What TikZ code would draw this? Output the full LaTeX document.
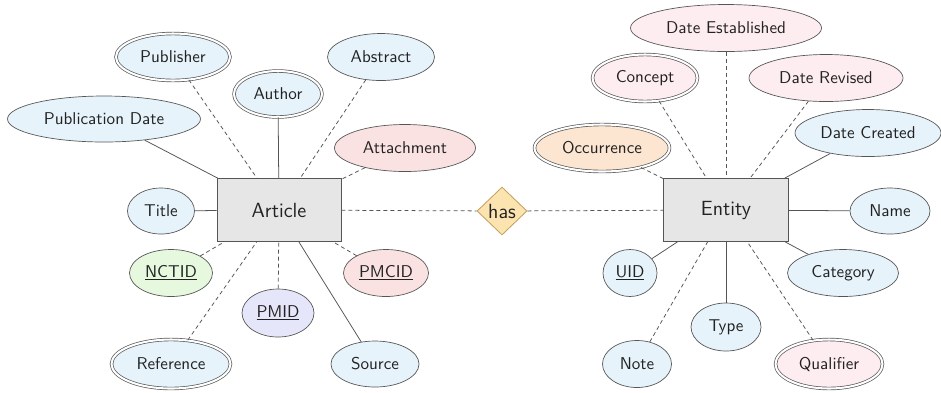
\documentclass[tikz,border=0pt]{standalone}
\usetikzlibrary{shapes.geometric}
\definecolor{attrblue}{HTML}{E6F3FB}
\definecolor{attrpink}{HTML}{FBE2E2}
\definecolor{attrrose}{HTML}{FDEDF1}
\definecolor{attrgreen}{HTML}{E6F8DE}
\definecolor{attrlav}{HTML}{E6E6FA}
\definecolor{attrorange}{HTML}{FCE6D2}
\definecolor{relfill}{HTML}{FCE4B0}
\definecolor{reldraw}{HTML}{C8A060}
\definecolor{boxfill}{HTML}{E6E6E6}
\definecolor{linegray}{HTML}{555555}
\definecolor{txt}{HTML}{222222}
\begin{document}
\begin{tikzpicture}[x=0.585pt,y=-0.585pt,
  sz/.style 2 args={minimum width=#1*0.585pt, minimum height=#2*0.585pt},
  attr/.style={ellipse, draw=linegray, line width=0.4pt, fill=attrblue, text=txt, font=\sffamily, inner sep=0pt},
  multi/.style={attr, double=white, double distance=1.2pt},
  entbox/.style={rectangle, draw=linegray, line width=0.5pt, fill=boxfill, text=txt, font=\sffamily\large, inner sep=0pt},
  rel/.style={diamond, draw=reldraw, line width=0.5pt, fill=relfill, text=txt, font=\sffamily\large, inner sep=0pt, aspect=1.05},
  conn/.style={draw=linegray, line width=0.45pt},
  dconn/.style={conn, dash pattern=on 2.3pt off 1.8pt}]
\useasboundingbox (0,0) rectangle (941,392);
% entities
\node[entbox, sz={124}{63}] (article) at (279,210) {Article};
\node[entbox, sz={125}{63}] (entity) at (726,210) {Entity};
\node[rel, sz={50}{48}] (has) at (502,211) {has};
% Article attributes
\node[multi, sz={114}{47}] (publisher) at (173,57) {Publisher};
\node[multi, sz={88}{46}] (author) at (278,94) {Author};
\node[attr, sz={107}{47}] (abstract) at (381,57) {Abstract};
\node[attr, sz={193}{46}] (pubdate) at (104,119) {Publication Date};
\node[attr, fill=attrpink, sz={141}{47}] (attachment) at (405,148) {Attachment};
\node[attr, sz={67}{46}] (title) at (161,211) {Title};
\node[attr, fill=attrgreen, sz={83}{47}] (nctid) at (171,273) {\underline{NCTID}};
\node[attr, fill=attrlav, sz={72}{48}] (pmid) at (278,313) {\underline{PMID}};
\node[attr, fill=attrpink, sz={85}{47}] (pmcid) at (386,273) {\underline{PMCID}};
\node[multi, sz={119}{49}] (reference) at (171,364) {Reference};
\node[attr, sz={88}{46}] (source) at (375,364) {Source};
% Entity attributes
\node[attr, fill=attrrose, sz={191}{47}] (dateest) at (726,28) {Date Established};
\node[multi, fill=attrrose, sz={105}{47}] (concept) at (645,78) {Concept};
\node[attr, fill=attrrose, sz={154}{47}] (daterev) at (826,78) {Date Revised};
\node[attr, sz={146}{47}] (datecre) at (868,133) {Date Created};
\node[multi, fill=attrorange, sz={135}{47}] (occurrence) at (602,148) {Occurrence};
\node[attr, sz={80}{46}] (name) at (890,211) {Name};
\node[attr, sz={54}{47}] (uid) at (630,273) {\underline{UID}};
\node[attr, sz={111}{47}] (category) at (843,273) {Category};
\node[attr, sz={70}{48}] (type) at (726,327) {Type};
\node[attr, sz={69}{47}] (note) at (637,364) {Note};
\node[multi, fill=attrrose, sz={107}{49}] (qualifier) at (829,364) {Qualifier};
% connectors
\draw[dconn] (article) -- (has);
\draw[dconn] (has) -- (entity);
\draw[conn] (pubdate) -- (article);
\draw[dconn] (publisher) -- (article);
\draw[conn] (author) -- (article);
\draw[dconn] (abstract) -- (article);
\draw[dconn] (attachment) -- (article);
\draw[conn] (title) -- (article);
\draw[dconn] (nctid) -- (article);
\draw[dconn] (reference) -- (article);
\draw[dconn] (pmid) -- (article);
\draw[conn] (source) -- (article);
\draw[dconn] (pmcid) -- (article);
\draw[dconn] (occurrence) -- (entity);
\draw[dconn] (concept) -- (entity);
\draw[dconn] (dateest) -- (entity);
\draw[dconn] (daterev) -- (entity);
\draw[conn] (datecre) -- (entity);
\draw[conn] (name) -- (entity);
\draw[conn] (category) -- (entity);
\draw[conn] (uid) -- (entity);
\draw[dconn] (note) -- (entity);
\draw[conn] (type) -- (entity);
\draw[dconn] (qualifier) -- (entity);
\end{tikzpicture}
\end{document}
